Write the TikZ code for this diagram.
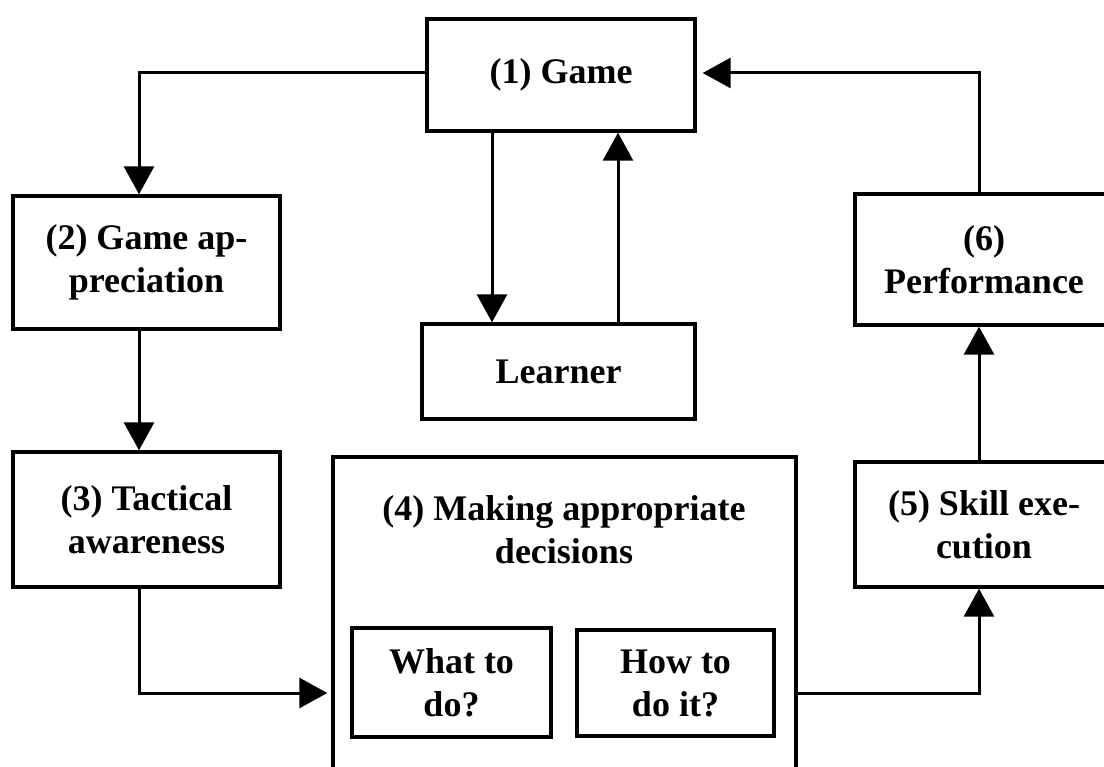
\documentclass[tikz,border=0pt]{standalone}
\usepackage{fontspec}
\setmainfont{Liberation Serif}
\usetikzlibrary{arrows.meta}
\begin{document}
\begin{tikzpicture}[x=1pt,y=-1pt,
  box/.style={draw,line width=3.4pt,inner sep=0pt,align=center,
    font=\bfseries\fontsize{36}{43}\selectfont},
  lbl/.style={inner sep=0pt,align=center,font=\bfseries\fontsize{36}{43}\selectfont},
  conn/.style={line width=3pt,-{Triangle[length=28pt,width=30pt]}},
  plain/.style={line width=3pt}]
\useasboundingbox (0,0) rectangle (1104,767);
\clip (0,0) rectangle (1104,767);
\fill[white] (0,0) rectangle (1104,767);
% boxes
\node[box,minimum width=268pt,minimum height=112pt] (game) at (561,75) {(1) Game};
\node[box,minimum width=267pt,minimum height=133pt] (app) at (146.5,262.5) {(2) Game ap-\\preciation};
\node[box,minimum width=267pt,minimum height=135pt] (tac) at (146.5,519.5) {(3) Tactical\\awareness};
\node[box,minimum width=273pt,minimum height=95pt] (lrn) at (558.5,371.5) {Learner};
\node[box,minimum width=463pt,minimum height=350pt] (dec) at (564.5,632) {};
\node[lbl] (dect) at (564,530) {(4) Making appropriate\\decisions};
\node[box,minimum width=199pt,minimum height=109pt] (what) at (451.5,682.5) {What to\\do?};
\node[box,minimum width=197pt,minimum height=106pt] (how) at (675.5,683) {How to\\do it?};
\node[box,minimum width=258pt,minimum height=125pt] (skill) at (984,524.5) {(5) Skill exe-\\cution};
\node[box,minimum width=258pt,minimum height=131pt] (perf) at (984,259.5) {(6)\\Performance};
% helper coordinates
\coordinate (xL) at (139,73);
\coordinate (xD) at (492,0);
\coordinate (xU) at (618,0);
\coordinate (xR) at (979,73);
\coordinate (yB) at (0,693);
% connectors
\draw[conn] (game.west |- xL) -| (app.north -| xL);
\draw[conn] (app.south -| xL) -- (tac.north -| xL);
\draw[conn] (game.south -| xD) -- (lrn.north -| xD);
\draw[conn] (lrn.north -| xU) -- (game.south -| xU);
\draw[conn,shorten >=4pt] (tac.south -| xL) |- (dec.west |- yB);
\draw[conn] (dec.east |- yB) -| (skill.south -| xR);
\draw[conn] (skill.north -| xR) -- (perf.south -| xR);
\draw[conn,shorten >=6pt] (perf.north -| xR) |- (game.east |- xR);
\end{tikzpicture}
\end{document}
